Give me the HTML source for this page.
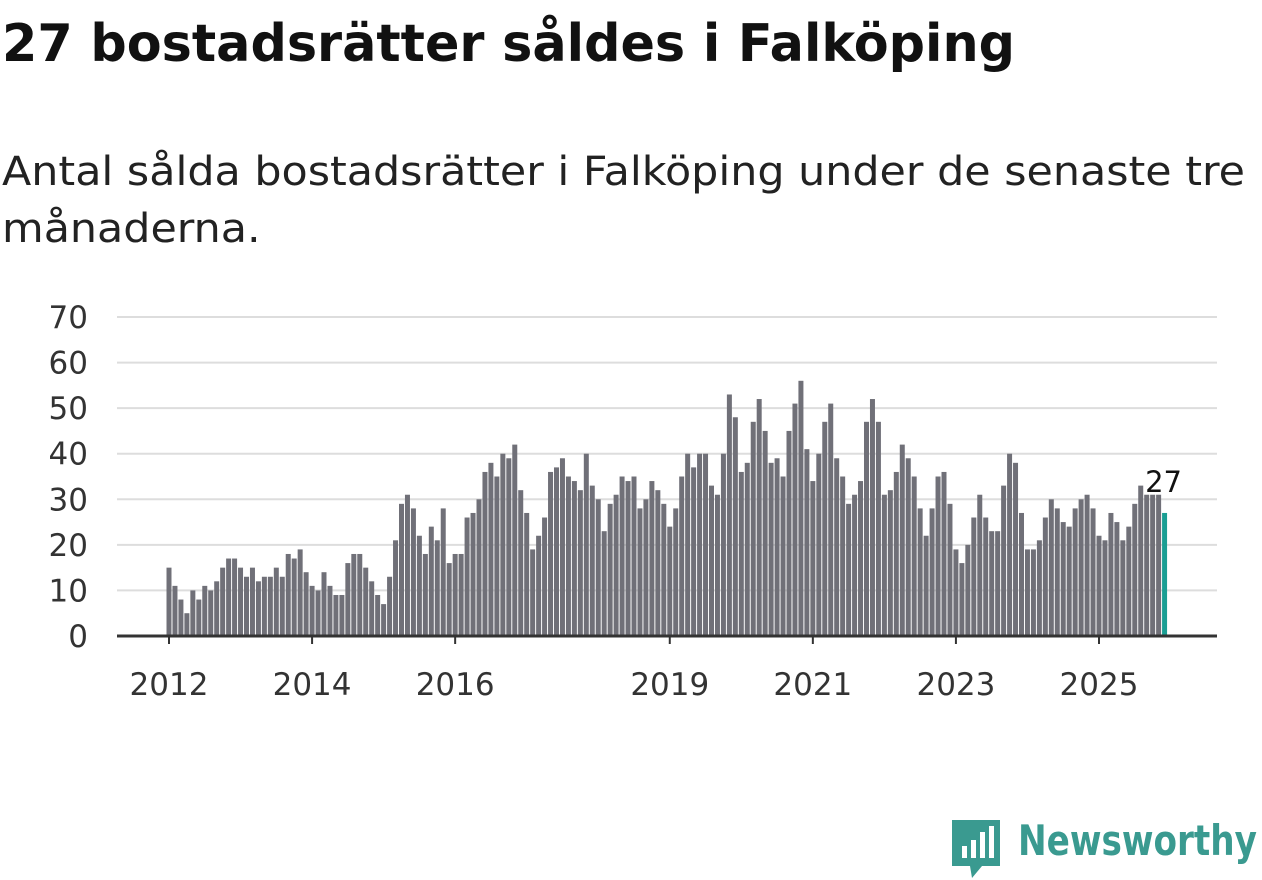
<!DOCTYPE html>
<html><head><meta charset="utf-8"><style>
body{margin:0;width:1262px;height:879px;background:#fff;font-family:"DejaVu Sans","Liberation Sans",sans-serif;overflow:hidden;position:relative}
.fit{position:absolute;left:2px;white-space:nowrap;transform-origin:0 0;display:inline-block}
#t{top:14px;font-size:52px;font-weight:bold;color:#111}
#s1{top:149px;font-size:40px;color:#222}
#s2{top:206px;font-size:40px;color:#222}
#logo{left:1018px;top:816px;font-size:42px;color:#3a9a90;font-weight:bold}
</style></head><body>
<div><span id="t" class="fit">27 bostadsrätter såldes i Falköping</span></div>
<div><span id="s1" class="fit">Antal sålda bostadsrätter i Falköping under de senaste tre</span><span id="s2" class="fit">månaderna.</span></div>
<svg id="chart" width="1262" height="879" style="position:absolute;left:0;top:0"></svg>
<svg width="50" height="60" style="position:absolute;left:952px;top:820px">
<path d="M0 0H48V46H30L20 58L18 46H0Z" fill="#3a9a90"/>
<rect x="10" y="26" width="5" height="12" fill="#fff"/><rect x="19" y="20" width="5" height="18" fill="#fff"/><rect x="28" y="12" width="5" height="26" fill="#fff"/><rect x="37" y="6" width="5" height="32" fill="#fff"/>
</svg>
<span id="logo" class="fit">Newsworthy</span>
<script>
const values = [15,11,8,5,10,8,11,10,12,15,17,17,
15,13,15,12,13,13,15,13,18,17,19,14,
11,10,14,11,9,9,16,18,18,15,12,9,
7,13,21,29,31,28,22,18,24,21,28,16,
18,18,26,27,30,36,38,35,40,39,42,32,
27,19,22,26,36,37,39,35,34,32,40,33,
30,23,29,31,35,34,35,28,30,34,32,29,
24,28,35,40,37,40,40,33,31,40,53,48,
36,38,47,52,45,38,39,35,45,51,56,41,
34,40,47,51,39,35,29,31,34,47,52,47,
31,32,36,42,39,35,28,22,28,35,36,29,
19,16,20,26,31,26,23,23,33,40,38,27,
19,19,21,26,30,28,25,24,28,30,31,28,
22,21,27,25,21,24,29,33,31,31,31,27];
const yTicks = [0,10,20,30,40,50,60,70];
const xTickYears = [2012,2014,2016,2019,2021,2023,2025];
const startYear = 2012;
[['t',1013],['s1',1243],['logo',239]].forEach(([id,w])=>{
 const e=document.getElementById(id);
 const k=w/e.getBoundingClientRect().width;
 e.style.transform='scaleX('+k+')';
 if(id==='s1')document.getElementById('s2').style.transform='scaleX('+k+')';
});
const NS="http://www.w3.org/2000/svg";
const svg=document.getElementById('chart');
const y=v=>636-v*(319/70);
const x=i=>169+i*(1099-169)/156;
const FF='DejaVu Sans, Liberation Sans, sans-serif';
function mk(t,a){const e=document.createElementNS(NS,t);for(const k in a)e.setAttribute(k,a[k]);svg.appendChild(e);return e;}
yTicks.forEach(t=>{
 if(t>0){const g=mk('line',{x1:117,x2:1217,y1:y(t),y2:y(t),stroke:'#ddd','stroke-width':2});
 
 }
 const l=mk('text',{x:88,y:y(t)+11,'text-anchor':'end','font-size':31,fill:'#333','font-family':FF});
 l.textContent=t;
 
 
});
values.forEach((v,i)=>{
 const last=i===values.length-1;
 const r=mk('rect',{x:x(i)-2.5,y:y(v),width:5,height:636-y(v),fill:last?'#1a9e93':'#707078'});
 
 
});
const ax=mk('line',{x1:117,x2:1217,y1:636,y2:636,stroke:'#333','stroke-width':3});


xTickYears.forEach(yr=>{
 const xi=x((yr-startYear)*12);
 const tk=mk('line',{x1:xi,x2:xi,y1:636,y2:644,stroke:'#333','stroke-width':2});
 
 
 const l=mk('text',{x:xi,y:695,'text-anchor':'middle','font-size':31,fill:'#333','font-family':FF});
 l.textContent=yr;
 
 
});
const li=values.length-1;
const lab=mk('text',{x:x(li)-1,y:y(values[li])-21,'text-anchor':'middle','font-size':29,fill:'#111','font-family':FF,stroke:'#fff','stroke-width':5,'paint-order':'stroke'});
lab.textContent=values[li];


</script>
</body></html>
